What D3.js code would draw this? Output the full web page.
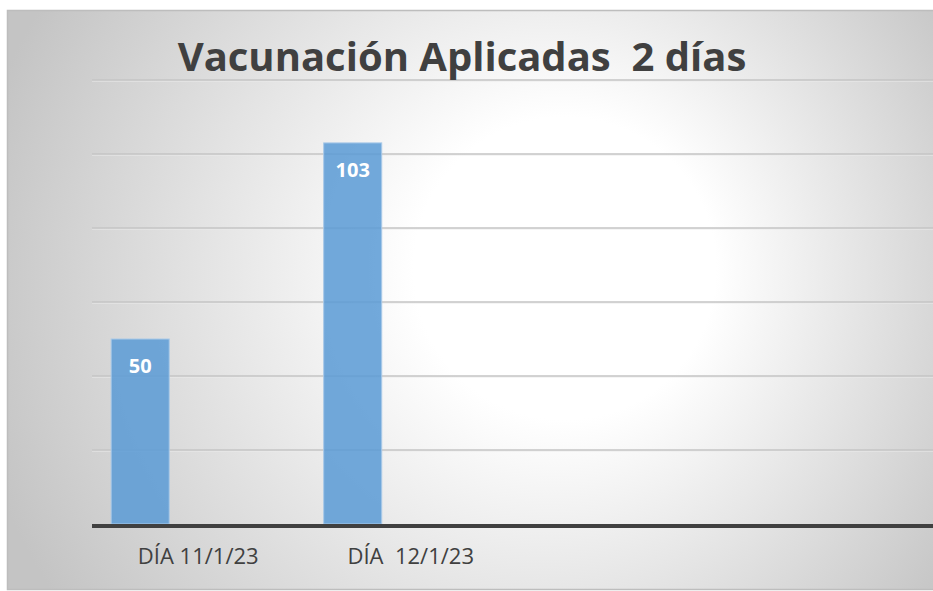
<!DOCTYPE html>
<html>
<head>
<meta charset="utf-8">
<script src="https://cdn.jsdelivr.net/npm/d3@7"></script>
<style>
  body { margin: 0; background: #fff; }
  svg { display: block; }
</style>
</head>
<body>
<div id="chart"></div>
<script>
// data
var categories = ["DÍA 11/1/23", "DÍA  12/1/23", "", ""];
var series = ["Serie1", "Serie2", "Serie3"];
var values = [50, 103, null, null];   // only Serie1 has values
var yTicks = [20, 40, 60, 80, 100, 120];
var title = "Vacunación Aplicadas  2 días";

var width = 933, height = 591;
var margin = {top: 80, right: -9, bottom: 67, left: 92};

var svg = d3.select("#chart").append("svg")
    .attr("width", width)
    .attr("height", height);

// background gradient
var defs = svg.append("defs");
var grad = defs.append("radialGradient")
    .attr("id", "bg")
    .attr("gradientUnits", "userSpaceOnUse")
    .attr("cx", 500).attr("cy", 290).attr("r", 540)
    .attr("fx", 590).attr("fy", 260);
grad.append("stop").attr("offset", "0").attr("stop-color", "#ffffff");
grad.append("stop").attr("offset", "0.28").attr("stop-color", "#ffffff");
grad.append("stop").attr("offset", "1").attr("stop-color", "#c4c4c4");

svg.append("rect")
    .attr("x", 7.5).attr("y", 10.5)
    .attr("width", 960).attr("height", 579)
    .attr("fill", "url(#bg)")
    .attr("stroke", "#bdbdbd")
    .attr("stroke-width", 1.5);

// categories by index (two of them have empty labels)
var x0 = d3.scaleBand()
    .domain(d3.range(categories.length))
    .range([margin.left, width - margin.right])
    .paddingInner(0).paddingOuter(0);

var x1 = d3.scaleBand()
    .domain(series)
    .range([0, x0.bandwidth()])
    .paddingInner(0).paddingOuter(0.33);

var y = d3.scaleLinear()
    .domain([0, 120])
    .range([height - margin.bottom, margin.top]);

// gridlines
var grid = svg.append("g");
grid.selectAll("line.g2")
    .data(yTicks)
  .enter().append("line")
    .attr("x1", margin.left).attr("x2", width - margin.right)
    .attr("y1", function(d) { return y(d) + 1; })
    .attr("y2", function(d) { return y(d) + 1; })
    .attr("stroke", "#ebebeb").attr("stroke-width", 1);
grid.selectAll("line.g1")
    .data(yTicks)
  .enter().append("line")
    .attr("x1", margin.left).attr("x2", width - margin.right)
    .attr("y1", function(d) { return y(d); })
    .attr("y2", function(d) { return y(d); })
    .attr("stroke", "#c4c4c4").attr("stroke-width", 1.3);

// bars
var data = categories.map(function(c, i) { return {idx: i, cat: c, series: series[0], value: values[i]}; })
    .filter(function(d) { return d.value != null; });

svg.append("g").selectAll("rect")
    .data(data)
  .enter().append("rect")
    .attr("x", function(d) { return x0(d.idx) + x1(d.series); })
    .attr("y", function(d) { return y(d.value); })
    .attr("width", x1.bandwidth())
    .attr("height", function(d) { return y(0) - y(d.value); })
    .attr("fill", "#5b9bd5")
    .attr("fill-opacity", 0.86)
    .attr("stroke", "#a9c9e8")
    .attr("stroke-width", 1);

// value labels
svg.append("g").selectAll("text")
    .data(data)
  .enter().append("text")
    .attr("x", function(d) { return x0(d.idx) + x1(d.series) + x1.bandwidth() / 2; })
    .attr("y", function(d) { return y(d.value) + 34; })
    .attr("text-anchor", "middle")
    .attr("font-family", "'Open Sans', sans-serif")
    .attr("font-weight", "bold")
    .attr("font-size", 20)
    .attr("fill", "#ffffff")
    .text(function(d) { return d.value; });

// x axis line
svg.append("line")
    .attr("x1", margin.left).attr("x2", width)
    .attr("y1", y(0) + 2).attr("y2", y(0) + 2)
    .attr("stroke", "#404040")
    .attr("stroke-width", 4);

// category labels
svg.append("g").selectAll("text")
    .data(categories)
  .enter().append("text")
    .attr("x", function(d, i) { return x0(i) + x0.bandwidth() / 2; })
    .attr("y", 564)
    .attr("text-anchor", "middle")
    .attr("font-family", "'Open Sans', sans-serif")
    .attr("font-size", 22)
    .attr("fill", "#404040")
    .style("white-space", "pre")
    .text(function(d) { return d; });

// title
svg.append("text")
    .attr("x", 462)
    .attr("y", 71)
    .attr("text-anchor", "middle")
    .attr("font-family", "'Open Sans', sans-serif")
    .attr("font-weight", "bold")
    .attr("font-size", 40)
    .attr("fill", "#404040")
    .style("white-space", "pre")
    .text(title);
</script>
</body>
</html>
